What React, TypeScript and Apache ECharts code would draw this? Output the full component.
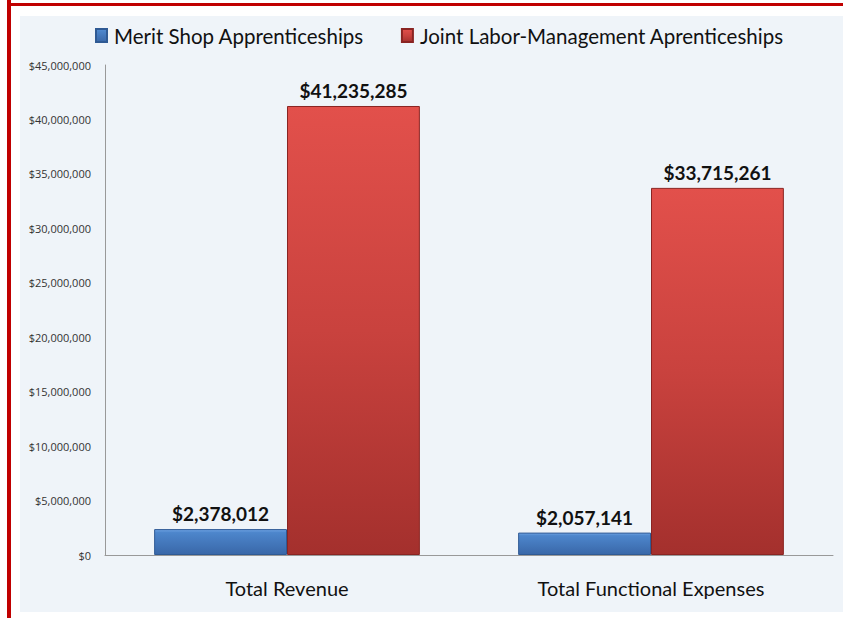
import React, { useEffect, useRef } from "react";
import * as echarts from "echarts";

const categories = ["Total Revenue", "Total Functional Expenses"];
const meritShop = [2378012, 2057141];
const jointLabor = [41235285, 33715261];
const seriesNames = ["Merit Shop Apprenticeships", "Joint Labor-Management Aprenticeships"];
const yMin = 0;
const yMax = 45000000;
const yInterval = 5000000;

const fmt = (v: number) => "$" + Math.round(v).toString().replace(/\B(?=(\d{3})+(?!\d))/g, ",");

export default function App() {
  const ref = useRef<HTMLDivElement>(null);
  useEffect(() => {
    if (!ref.current) return;
    const chart = echarts.init(ref.current, null, { renderer: "svg" });
    const font = "Lato, 'Open Sans', sans-serif";
    const blue = new echarts.graphic.LinearGradient(0, 0, 0, 1, [
      { offset: 0, color: "#6fa3e3" },
      { offset: 0.12, color: "#4d86cc" },
      { offset: 1, color: "#3967a8" },
    ]);
    const red = new echarts.graphic.LinearGradient(0, 0, 0, 1, [
      { offset: 0, color: "#e2504b" },
      { offset: 0.5, color: "#c9423e" },
      { offset: 1, color: "#a4302d" },
    ]);
    chart.setOption({
      animation: false,
      backgroundColor: "#ffffff",
      graphic: [
        { type: "rect", z: -10, shape: { x: 20, y: 16, width: 823, height: 596 }, style: { fill: "#eff4f9" } },
        { type: "rect", z: -9, shape: { x: 7, y: 0, width: 4, height: 618 }, style: { fill: "#c00000" } },
        { type: "rect", z: -9, shape: { x: 7, y: 3, width: 836, height: 3 }, style: { fill: "#c00000" } },
      ],
      legend: {
        top: 20,
        left: 90,
        icon: "rect",
        itemWidth: 11,
        itemHeight: 13,
        itemGap: 37,
        textStyle: { fontFamily: font, fontSize: 20.5, color: "#111", padding: [0, 0, 0, 2] },
        data: seriesNames,
      },
      grid: { left: 105, right: 10, top: 65, bottom: 63, containLabel: false },
      xAxis: {
        type: "category",
        data: categories,
        axisLine: { show: true, lineStyle: { color: "#999", width: 1 } },
        axisTick: { show: false },
        axisLabel: { fontFamily: font, fontSize: 20, color: "#111", margin: 23 },
      },
      yAxis: {
        type: "value",
        min: yMin,
        max: yMax,
        interval: yInterval,
        axisLine: { show: true, lineStyle: { color: "#999", width: 1 } },
        axisTick: { show: false },
        splitLine: { show: false },
        axisLabel: {
          fontFamily: "'Open Sans', sans-serif",
          fontSize: 11,
          color: "#333",
          margin: 14,
          formatter: (v: number) => fmt(v),
        },
      },
      series: [
        {
          name: seriesNames[0],
          type: "bar",
          data: meritShop,
          barGap: "0%",
          barCategoryGap: "27%",
          itemStyle: { color: blue, borderColor: "#2f5a94", borderWidth: 1 },
          label: {
            show: true,
            position: "top",
            distance: 6,
            fontFamily: font,
            fontWeight: "bold",
            fontSize: 19,
            color: "#111",
            formatter: (p: any) => fmt(p.value),
          },
        },
        {
          name: seriesNames[1],
          type: "bar",
          data: jointLabor,
          itemStyle: { color: red, borderColor: "#8a2422", borderWidth: 1 },
          label: {
            show: true,
            position: "top",
            distance: 6,
            fontFamily: font,
            fontWeight: "bold",
            fontSize: 19,
            color: "#111",
            formatter: (p: any) => fmt(p.value),
          },
        },
      ],
    });
    return () => chart.dispose();
  }, []);
  return <div ref={ref} style={{ position: "fixed", left: 0, top: 0, width: 843, height: 618 }} />;
}
